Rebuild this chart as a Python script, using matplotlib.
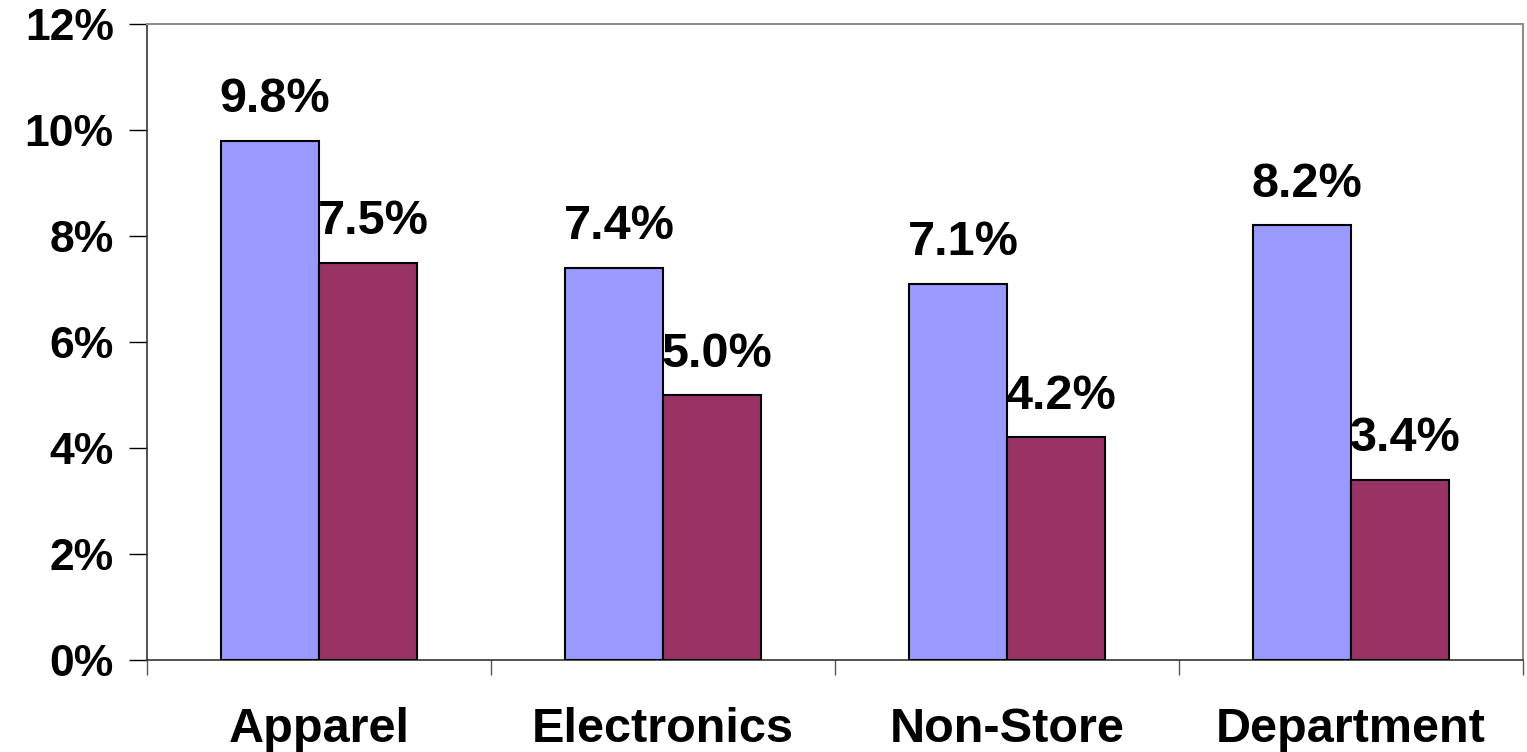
import matplotlib
matplotlib.use("Agg")
import matplotlib.pyplot as plt
import numpy as np

categories = ["Apparel", "Electronics", "Non-Store", "Department"]
series_a = [9.8, 7.4, 7.1, 8.2]
series_b = [7.5, 5.0, 4.2, 3.4]
yticks = [0, 2, 4, 6, 8, 10, 12]
ytick_labels = ["0%", "2%", "4%", "6%", "8%", "10%", "12%"]

plt.rcParams['font.family'] = ['Liberation Sans', 'DejaVu Sans']

fig = plt.figure(figsize=(15.27, 7.52), dpi=100)
ax = fig.add_axes([147/1527, 1-660/752, (1523-147)/1527, (660-24)/752])

x = np.arange(len(categories))
w = 0.285
bars_a = ax.bar(x - w/2, series_a, w, color="#9999FF", edgecolor="black", linewidth=1.5, zorder=3)
bars_b = ax.bar(x + w/2, series_b, w, color="#993366", edgecolor="black", linewidth=1.5, zorder=3)

for bars, vals in ((bars_a, series_a), (bars_b, series_b)):
    for b, v in zip(bars, vals):
        ax.annotate(f"{v:.1f}%", (b.get_x() + b.get_width()/2, v),
                    xytext=(3.5, 20.5), textcoords="offset points",
                    ha="center", va="baseline", fontsize=35, fontweight="bold", zorder=4)

ax.set_xlim(-0.5, len(categories) - 0.5)
ax.set_ylim(0, 12)
ax.set_yticks(yticks)
ax.set_yticklabels(ytick_labels, fontsize=32, fontweight="bold")
ax.tick_params(axis="y", length=13, width=1, direction="out", pad=11, color="black")

ax.set_xticks(np.arange(len(categories) + 1) - 0.5)
ax.set_xticklabels([])
ax.tick_params(axis="x", which="major", length=11, width=1, color="#555555")
ax.set_xticks(x, minor=True)
ax.set_xticklabels(categories, minor=True, fontsize=35, fontweight="bold")
ax.tick_params(axis="x", which="minor", length=0, pad=34)

for s in ("top", "right"):
    ax.spines[s].set_color("#8c8c8c")
    ax.spines[s].set_linewidth(1.5)
ax.spines["left"].set_color("#333333")
ax.spines["bottom"].set_color("#333333")
ax.spines["left"].set_linewidth(1.2)
ax.spines["bottom"].set_linewidth(1.2)

fig.savefig("out.png", dpi=100)
